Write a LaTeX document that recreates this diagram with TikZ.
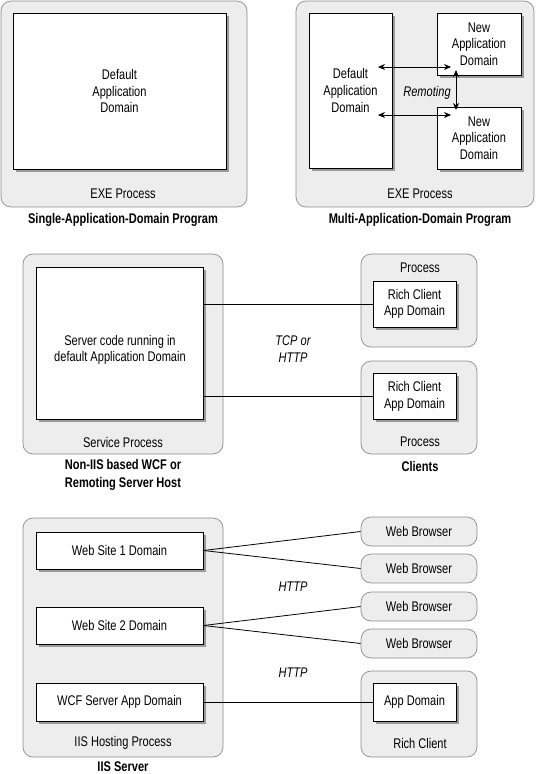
\documentclass[tikz,border=0pt]{standalone}
\usepackage{fontspec}
\setmainfont{Liberation Sans}[FakeStretch=0.79]
\usetikzlibrary{shadows,arrows.meta}
\begin{document}
\begin{tikzpicture}[x=1pt,y=-1pt,
  outerbox/.style={draw=black!45,fill=black!7,rounded corners=10pt,line width=0.7pt,minimum width=#1,inner sep=0},
  innerbox/.style={draw=black,fill=white,line width=0.9pt,inner sep=0,
     drop shadow={shadow xshift=2.5pt,shadow yshift=-2.5pt,fill=black,opacity=0.35},
     font=\fontsize{14}{16.7}\selectfont,align=center},
  txt/.style={font=\fontsize{14}{16.7}\selectfont,align=center,inner sep=0},
  captxt/.style={font=\fontsize{14}{17.5}\selectfont\bfseries,align=center,inner sep=0},
  itxt/.style={font=\fontsize{14}{16.5}\selectfont\itshape,align=center,inner sep=0},
  conn/.style={draw=black,line width=0.8pt},
  biarrow/.style={conn,{Stealth[length=7pt,width=6pt]}-{Stealth[length=7pt,width=6pt]}}
]
\useasboundingbox (0,0) rectangle (543,774);

% ---------- Top left ----------
\node[outerbox=246pt,minimum height=206pt] (P1) at (124,104) {};
\node[innerbox,minimum width=213pt,minimum height=156pt] (D1) at (119.5,91) {Default\\Application\\Domain};
\node[txt] (P1l) at (123,194) {EXE Process};
\node[captxt] (C1) at (123,220) {Single-Application-Domain Program};

% ---------- Top right ----------
\node[outerbox=238pt,minimum height=206pt] (P2) at (415,104) {};
\node[innerbox,minimum width=83pt,minimum height=155pt] (D2) at (350.5,90.5) {Default\\Application\\Domain};
\node[innerbox,minimum width=84pt,minimum height=62pt] (N1) at (479,44) {New\\Application\\Domain};
\node[innerbox,minimum width=84pt,minimum height=62pt] (N2) at (479,138) {New\\Application\\Domain};
\coordinate (ua) at (378,67);
\coordinate (ub) at (451,67);
\coordinate (la) at (378,115);
\coordinate (lb) at (451,115);
\coordinate (va) at (456,70);
\coordinate (vb) at (456,110);
\draw[biarrow] (ua) -- (ub);
\draw[biarrow] (la) -- (lb);
\draw[biarrow] (va) -- (vb);
\node[itxt] (rem) at (427,93) {Remoting};
\node[txt] (P2l) at (420,194) {EXE Process};
\node[captxt] (C2) at (420,220) {Multi-Application-Domain Program};

% ---------- Middle ----------
\node[outerbox=200pt,minimum height=200pt] (SP) at (123,354) {};
\node[innerbox,minimum width=167pt,minimum height=152pt] (SC) at (119.5,343) {};
\node[txt] (SCt) at (120,350) {Server code running in\\default Application Domain};
\node[txt] (SPl) at (123,442) {Service Process};
\node[captxt] (C3) at (123,475) {Non-IIS based WCF or\\Remoting Server Host};

\node[outerbox=116pt,minimum height=93pt] (CP1) at (419,300.5) {};
\node[txt] (CP1l) at (420,268) {Process};
\node[innerbox,minimum width=83pt,minimum height=46pt] (RC1) at (414.5,304) {Rich Client\\App Domain};
\node[outerbox=116pt,minimum height=93pt] (CP2) at (419,407.5) {};
\node[innerbox,minimum width=83pt,minimum height=46pt] (RC2) at (414.5,396.5) {Rich Client\\App Domain};
\node[txt] (CP2l) at (420,442) {Process};
\node[captxt] (C4) at (420,466) {Clients};

\draw[conn] (SC.east |- RC1.west) -- (RC1.west);
\draw[conn] (SC.east |- RC2.west) -- (RC2.west);
\node[itxt] (tcp) at (293,349) {TCP or\\HTTP};

% ---------- Bottom ----------
\node[outerbox=200pt,minimum height=239pt] (IIS) at (123,637.5) {};
\node[innerbox,minimum width=167pt,minimum height=37pt] (WS1) at (119.5,550.5) {Web Site 1 Domain};
\node[innerbox,minimum width=167pt,minimum height=37pt] (WS2) at (119.5,625.5) {Web Site 2 Domain};
\node[innerbox,minimum width=167pt,minimum height=38pt] (WCF) at (119.5,702) {WCF Server App Domain};
\node[txt] (IISl) at (123,743) {IIS Hosting Process};
\node[captxt] (C5) at (123,767) {IIS Server};

\node[outerbox=116pt,minimum height=29pt,txt] (WB1) at (419,531.5) {Web Browser};
\node[outerbox=116pt,minimum height=29pt,txt] (WB2) at (419,568.5) {Web Browser};
\node[outerbox=116pt,minimum height=29pt,txt] (WB3) at (419,606.5) {Web Browser};
\node[outerbox=116pt,minimum height=29pt,txt] (WB4) at (419,643.5) {Web Browser};
\node[outerbox=116pt,minimum height=86pt] (RCP) at (419,714) {};
\node[innerbox,minimum width=83pt,minimum height=38pt] (AD) at (414.5,702) {App Domain};
\node[txt] (RCPl) at (420,743) {Rich Client};

\draw[conn] (WS1.east) -- (WB1.west);
\draw[conn] (WS1.east) -- (WB2.west);
\draw[conn] (WS2.east) -- (WB3.west);
\draw[conn] (WS2.east) -- (WB4.west);
\draw[conn] (WCF.east) -- (AD.west);
\node[itxt] (h1) at (293,587) {HTTP};
\node[itxt] (h2) at (293,673) {HTTP};
\end{tikzpicture}
\end{document}
